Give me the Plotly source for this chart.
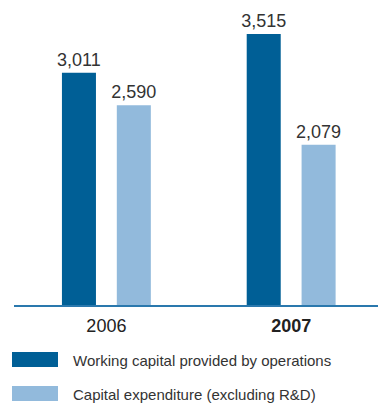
import plotly.graph_objects as go

# Chart data
years = ["2006", "2007"]
year_labels = ["2006", "<b>2007</b>"]
working_capital = [3011, 3515]
capital_expenditure = [2590, 2079]
series_names = ["Working capital provided by operations",
                "Capital expenditure (excluding R&D)"]

DARK = "#005f96"
LIGHT = "#92badc"
TEXT = "#333333"
FONT = "Liberation Sans Narrow, Arial Narrow, Liberation Sans, Arial, sans-serif"

W, H = 378, 403
ML, MR, MT, MB = 14, 0, 20, 98
PLOT_W = W - ML - MR
PLOT_H = H - MT - MB


def px_x(px):
    return (px - ML) / PLOT_W


def px_y(py):
    return (H - MB - py) / PLOT_H


fig = go.Figure()
for vals, color, name in [(working_capital, DARK, series_names[0]),
                          (capital_expenditure, LIGHT, series_names[1])]:
    fig.add_trace(go.Bar(
        x=years, y=vals, name=name, marker=dict(color=color, line=dict(width=0)),
        text=[f"{v:,}" for v in vals], textposition="outside",
        textfont=dict(family=FONT, size=18, color=TEXT),
        constraintext="none", cliponaxis=False, showlegend=False,
    ))

# Legend swatches and labels
shapes = []
annotations = []
for i, (color, name) in enumerate([(DARK, series_names[0]), (LIGHT, series_names[1])]):
    top = 352 + i * 34
    shapes.append(dict(type="rect", xref="paper", yref="paper",
                       x0=px_x(12), x1=px_x(58), y0=px_y(top), y1=px_y(top + 15),
                       fillcolor=color, line=dict(width=0)))
    annotations.append(dict(xref="paper", yref="paper", x=px_x(71), y=px_y(top + 8),
                            xanchor="left", yanchor="middle", showarrow=False,
                            text=name, font=dict(family=FONT, size=15, color=TEXT)))

fig.update_layout(
    width=W, height=H,
    margin=dict(l=ML, r=MR, t=MT, b=MB),
    paper_bgcolor="white", plot_bgcolor="white",
    barmode="group", bargap=0.406, bargroupgap=0.38,
    xaxis=dict(type="category", range=[-0.5, 1.47], tickvals=years, ticktext=year_labels,
               showline=True, linecolor="#2a78ad", linewidth=2, ticks="",
               ticklabelstandoff=3,
               tickfont=dict(family=FONT, size=18, color="#222222"), showgrid=False),
    yaxis=dict(range=[0, PLOT_H / 0.0771], visible=False, showgrid=False, zeroline=False),
    shapes=shapes, annotations=annotations,
)

fig.write_html("out.html")
